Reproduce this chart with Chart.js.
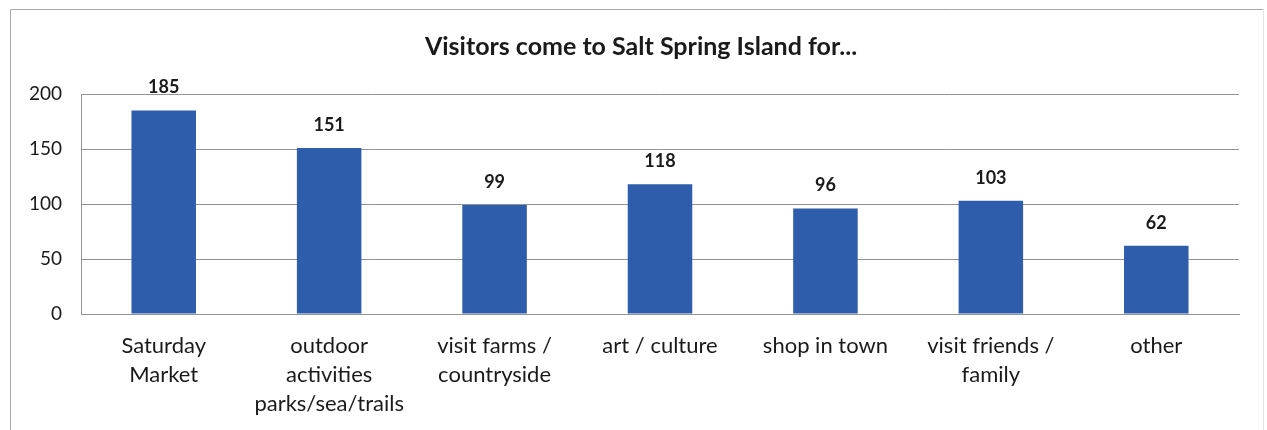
<!DOCTYPE html>
<html>
<head>
<meta charset="utf-8">
<script src="https://cdn.jsdelivr.net/npm/chart.js@4/dist/chart.umd.min.js"></script>
<style>
  html, body { margin: 0; padding: 0; background: #ffffff; }
  #wrap { position: relative; width: 1267px; height: 430px; }
  canvas { display: block; }
</style>
</head>
<body>
<div id="wrap"><canvas id="c" width="1267" height="430"></canvas></div>
<script>
// Reasons visitors give for coming to the island
const categories = [
  ["Saturday", "Market"],
  ["outdoor", "activities", "parks/sea/trails"],
  ["visit farms /", "countryside"],
  "art / culture",
  "shop in town",
  ["visit friends /", "family"],
  "other"
];
const visitorCounts = [185, 151, 99, 118, 96, 103, 62];
const yTicks = [0, 50, 100, 150, 200];
const chartTitle = "Visitors come to Salt Spring Island for...";

const FONT = "Lato, 'Open Sans', 'Liberation Sans', sans-serif";
const BAR_BLUE = "#2d5dab";
const GRID_GREY = "#939393";

// Frame around the chart (top/left visible, right edge faint) plus the centred bold title
const framePlugin = {
  id: "frame",
  beforeDraw(chart) {
    const ctx = chart.ctx;
    ctx.save();
    ctx.fillStyle = "#ffffff";
    ctx.fillRect(0, 0, chart.width, chart.height);
    ctx.lineWidth = 1;
    ctx.strokeStyle = "#a8a8a8";
    ctx.beginPath();
    ctx.moveTo(10.5, 430);
    ctx.lineTo(10.5, 9.5);
    ctx.lineTo(1263.5, 9.5);
    ctx.stroke();
    ctx.strokeStyle = "#e4e4e4";
    ctx.beginPath();
    ctx.moveTo(1263.5, 9.5);
    ctx.lineTo(1263.5, 430);
    ctx.stroke();
    ctx.fillStyle = "#1a1a1a";
    ctx.font = "bold 25px " + FONT;
    ctx.textAlign = "center";
    ctx.textBaseline = "middle";
    ctx.fillText(chartTitle, 641, 47);
    ctx.restore();
  }
};

// Bold value labels above each bar, positioned from the bar elements
const valueLabels = {
  id: "valueLabels",
  afterDatasetsDraw(chart) {
    const ctx = chart.ctx;
    const meta = chart.getDatasetMeta(0);
    const data = chart.data.datasets[0].data;
    ctx.save();
    ctx.fillStyle = "#1a1a1a";
    ctx.font = "bold 18px " + FONT;
    ctx.textAlign = "center";
    ctx.textBaseline = "middle";
    meta.data.forEach((bar, i) => {
      ctx.fillText(String(data[i]), bar.x, bar.y - 23);
    });
    ctx.restore();
  }
};

new Chart(document.getElementById("c"), {
  type: "bar",
  data: {
    labels: categories,
    datasets: [{
      data: visitorCounts,
      backgroundColor: BAR_BLUE,
      borderWidth: 0,
      categoryPercentage: 1,
      barPercentage: 0.39
    }]
  },
  options: {
    responsive: false,
    animation: false,
    devicePixelRatio: 1,
    layout: { padding: { left: 0, right: 28, top: 94, bottom: 0 } },
    plugins: {
      legend: { display: false },
      title: { display: false },
      tooltip: { enabled: false }
    },
    scales: {
      x: {
        grid: { display: false, drawTicks: false },
        border: { display: true, color: GRID_GREY, width: 1 },
        ticks: {
          color: "#1a1a1a",
          font: { family: FONT, size: 22, lineHeight: "29px" },
          padding: 17,
          maxRotation: 0,
          autoSkip: false
        },
        afterFit(scale) { scale.height = 116; }
      },
      y: {
        min: 0,
        max: 200,
        afterBuildTicks(scale) { scale.ticks = yTicks.map(v => ({ value: v })); },
        grid: { color: GRID_GREY, lineWidth: 1, drawTicks: false },
        border: { display: true, color: GRID_GREY, width: 1 },
        ticks: {
          color: "#1a1a1a",
          font: { family: FONT, size: 19 },
          padding: 19
        },
        afterFit(scale) { scale.width = 81; }
      }
    }
  },
  plugins: [framePlugin, valueLabels]
});
</script>
</body>
</html>
